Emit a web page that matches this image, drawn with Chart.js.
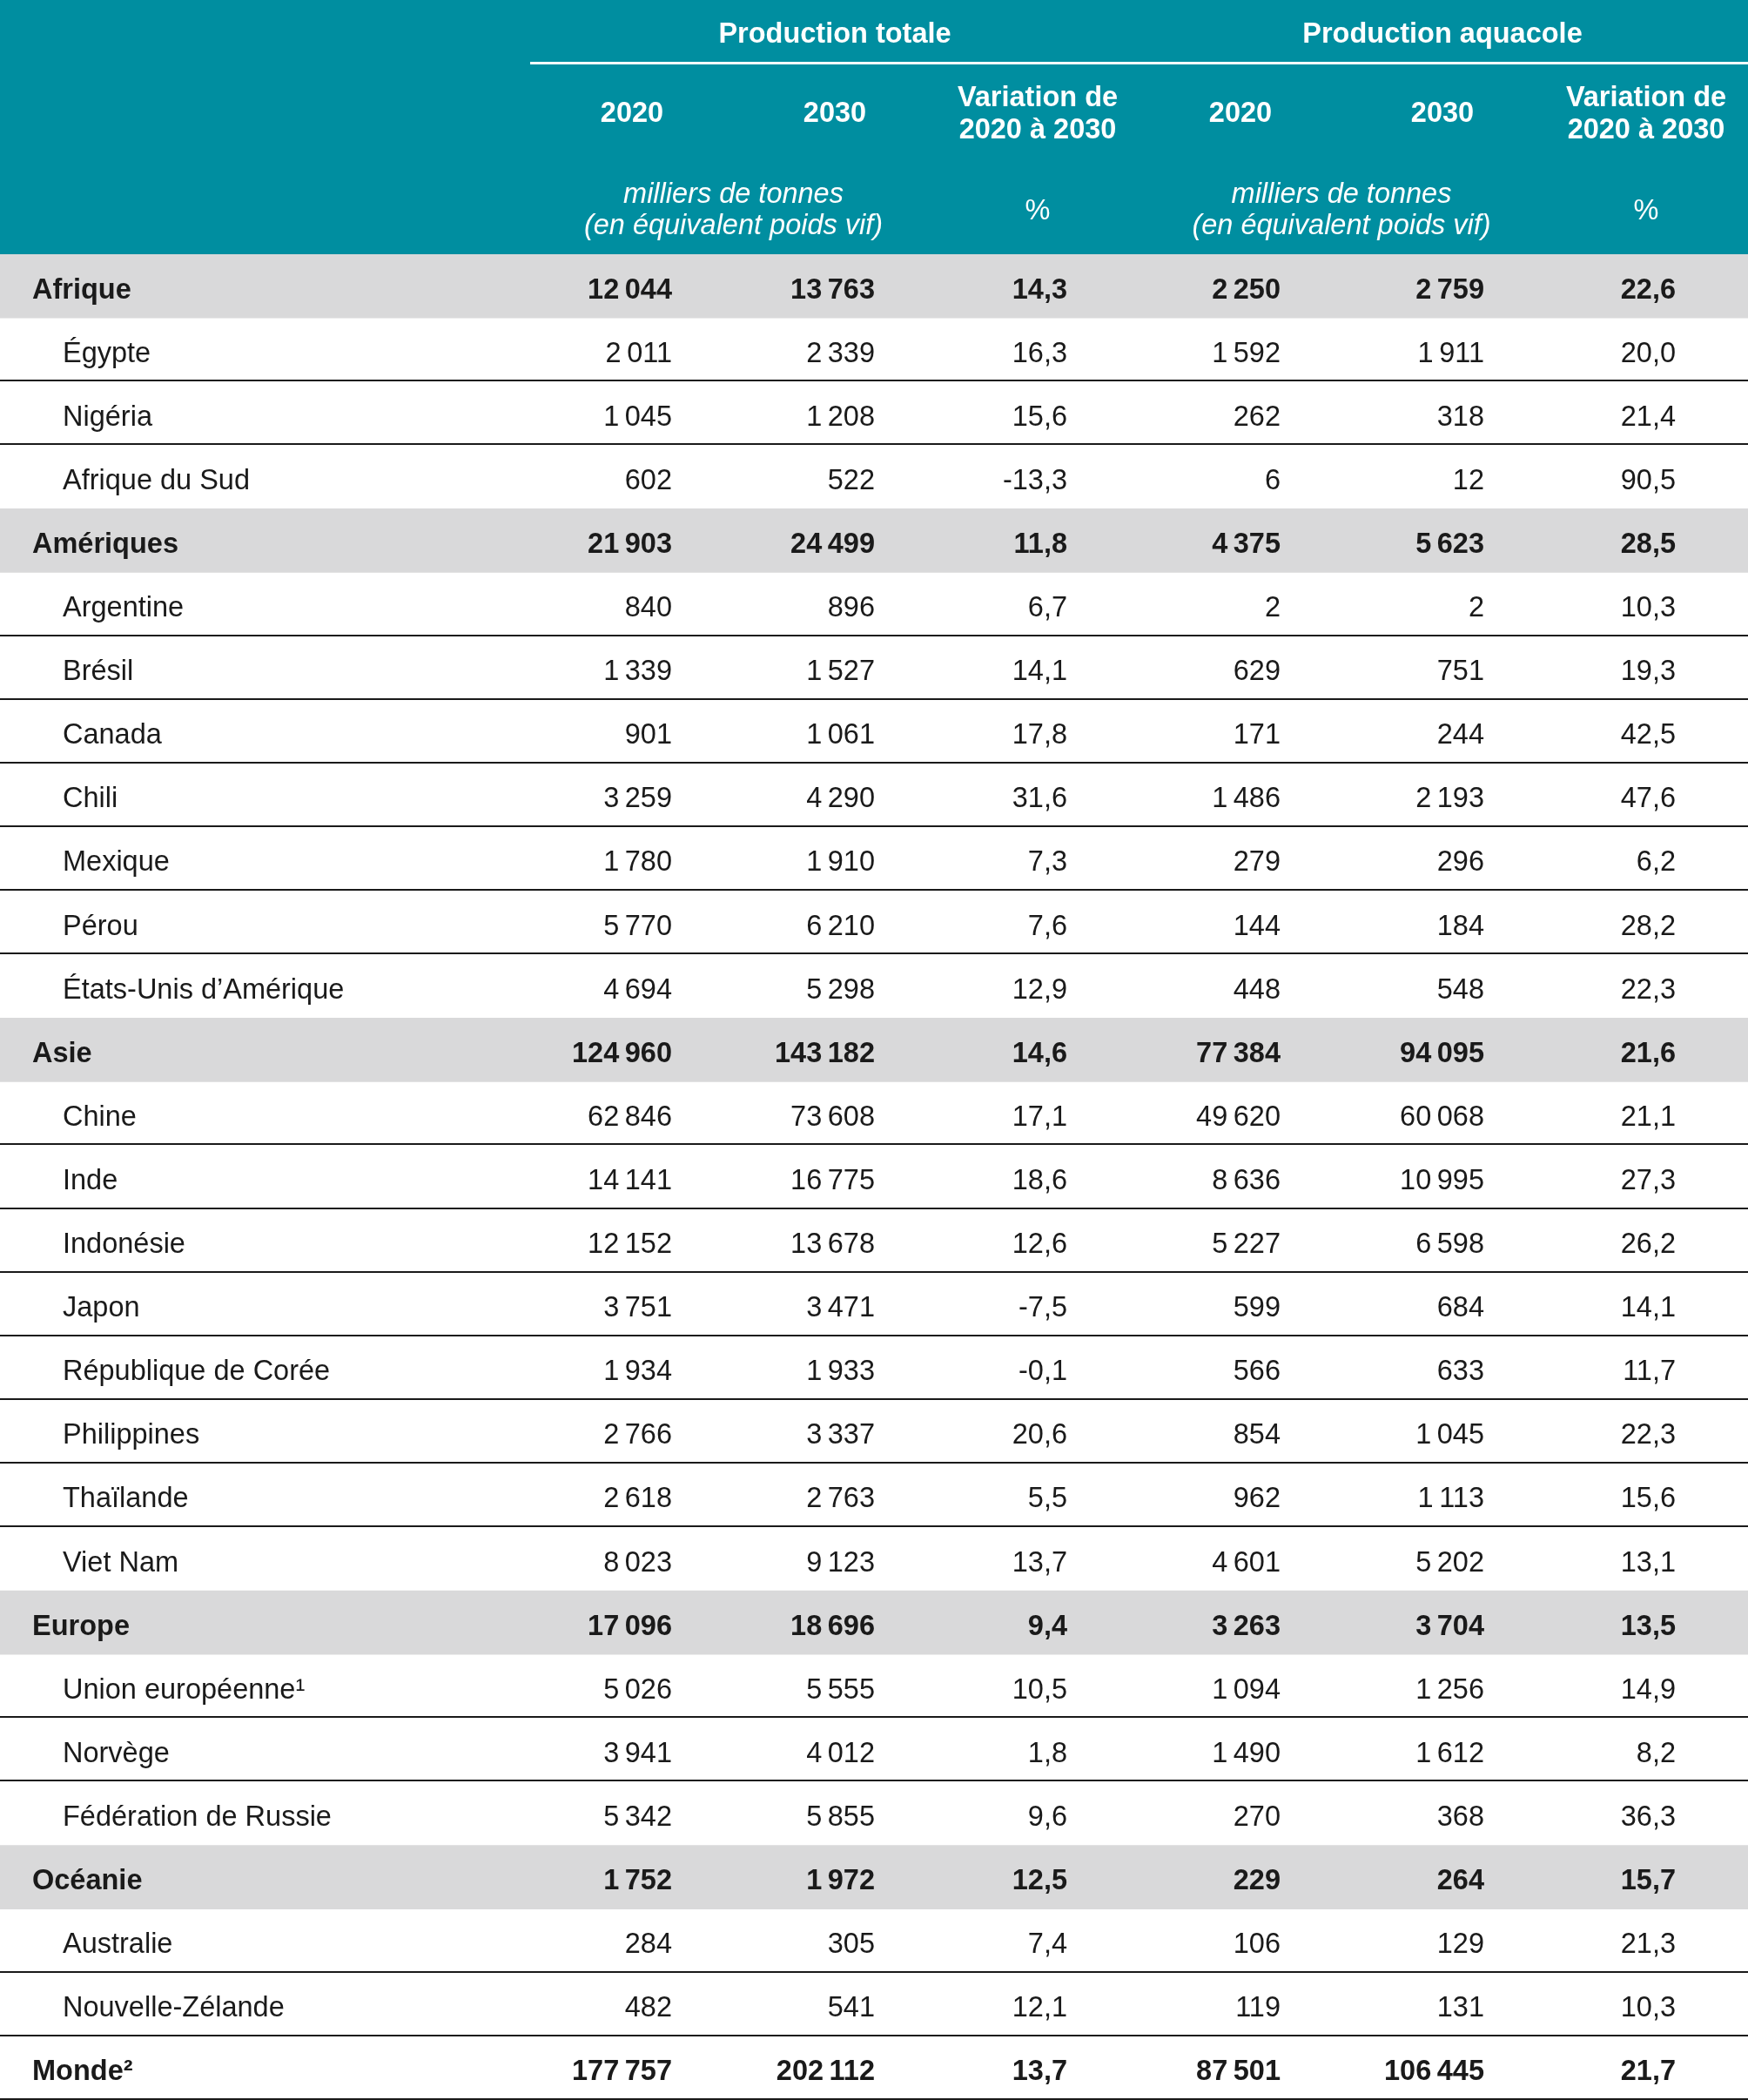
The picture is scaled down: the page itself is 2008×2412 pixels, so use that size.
<!DOCTYPE html>
<html lang="fr">
<head>
<meta charset="utf-8">
<title>Production totale et aquacole, 2020-2030</title>
<script src="https://cdn.jsdelivr.net/npm/chart.js@4.4.1/dist/chart.umd.min.js"></script>
<style>
    html, body { margin: 0; padding: 0; background: #ffffff; }
    #wrap { width: 2008px; height: 2412px; }
</style>
</head>
<body>
<div id="wrap"><canvas id="tableChart" width="2008" height="2412"></canvas></div>
<script>
// Lignes du tableau
const rowLabels = [
    'Afrique', 'Égypte', 'Nigéria', 'Afrique du Sud',
    'Amériques', 'Argentine', 'Brésil', 'Canada', 'Chili', 'Mexique', 'Pérou', 'États-Unis d’Amérique',
    'Asie', 'Chine', 'Inde', 'Indonésie', 'Japon', 'République de Corée', 'Philippines', 'Thaïlande', 'Viet Nam',
    'Europe', 'Union européenne¹', 'Norvège', 'Fédération de Russie',
    'Océanie', 'Australie', 'Nouvelle-Zélande',
    'Monde²'
];
// 1 = région (fond gris, gras), 2 = total mondial (gras), 0 = pays
const rowType = [
    1, 0, 0, 0,
    1, 0, 0, 0, 0, 0, 0, 0,
    1, 0, 0, 0, 0, 0, 0, 0, 0,
    1, 0, 0, 0,
    1, 0, 0,
    2
];

// Production totale (milliers de tonnes, équivalent poids vif)
const total2020 = [
    12044, 2011, 1045, 602,
    21903, 840, 1339, 901, 3259, 1780, 5770, 4694,
    124960, 62846, 14141, 12152, 3751, 1934, 2766, 2618, 8023,
    17096, 5026, 3941, 5342,
    1752, 284, 482,
    177757
];
const total2030 = [
    13763, 2339, 1208, 522,
    24499, 896, 1527, 1061, 4290, 1910, 6210, 5298,
    143182, 73608, 16775, 13678, 3471, 1933, 3337, 2763, 9123,
    18696, 5555, 4012, 5855,
    1972, 305, 541,
    202112
];
const totalVar = [
    14.3, 16.3, 15.6, -13.3,
    11.8, 6.7, 14.1, 17.8, 31.6, 7.3, 7.6, 12.9,
    14.6, 17.1, 18.6, 12.6, -7.5, -0.1, 20.6, 5.5, 13.7,
    9.4, 10.5, 1.8, 9.6,
    12.5, 7.4, 12.1,
    13.7
];

// Production aquacole
const aqua2020 = [
    2250, 1592, 262, 6,
    4375, 2, 629, 171, 1486, 279, 144, 448,
    77384, 49620, 8636, 5227, 599, 566, 854, 962, 4601,
    3263, 1094, 1490, 270,
    229, 106, 119,
    87501
];
const aqua2030 = [
    2759, 1911, 318, 12,
    5623, 2, 751, 244, 2193, 296, 184, 548,
    94095, 60068, 10995, 6598, 684, 633, 1045, 1113, 5202,
    3704, 1256, 1612, 368,
    264, 129, 131,
    106445
];
const aquaVar = [
    22.6, 20.0, 21.4, 90.5,
    28.5, 10.3, 19.3, 42.5, 47.6, 6.2, 28.2, 22.3,
    21.6, 21.1, 27.3, 26.2, 14.1, 11.7, 22.3, 15.6, 13.1,
    13.5, 14.9, 8.2, 36.3,
    15.7, 21.3, 10.3,
    21.7
];

// En-têtes
const groupTitles = ['Production totale', 'Production aquacole'];
const yearLabels = ['2020', '2030'];
const variationLabel = ['Variation de', '2020 à 2030'];
const unitLabel = ['milliers de tonnes', '(en équivalent poids vif)'];
const percentLabel = '%';

// Mise en page (pixels)
const W = 2008, H = 2412, HEADER_H = 292;
const TEAL = '#008ea0';
const GREY = '#d9d9da';
const INK = '#1a1a1a';
const FONT = '"Liberation Sans", Arial, sans-serif';
const SIZE = '32.5px ';
const colRight = [772, 1005, 1226, 1471, 1705, 1925];
const colHeadCenter = [726, 959, 1192, 1425, 1657, 1891];

function fmtInt(v) {
    return String(v).replace(/\B(?=(\d{3})+(?!\d))/g, '\u2009');
}
function fmtPct(v) {
    return v.toFixed(1).replace('.', ',');
}

const columns = [
    { data: total2020, fmt: fmtInt },
    { data: total2030, fmt: fmtInt },
    { data: totalVar, fmt: fmtPct },
    { data: aqua2020, fmt: fmtInt },
    { data: aqua2030, fmt: fmtInt },
    { data: aquaVar, fmt: fmtPct }
];

// Plugin : dessine l'en-tête, les libellés, les valeurs et les filets
const tablePlugin = {
    id: 'tablePlugin',
    beforeDraw(chart) {
        const c = chart.ctx;
        c.save();
        c.fillStyle = '#ffffff';
        c.fillRect(0, 0, W, H);
        c.fillStyle = TEAL;
        c.fillRect(0, 0, W, HEADER_H);
        c.restore();
    },
    afterDatasetsDraw(chart) {
        const c = chart.ctx;
        const x = chart.scales.x;
        const y = chart.scales.y;
        const band = y.getPixelForValue(1) - y.getPixelForValue(0);

        c.save();
        // En-tête
        c.fillStyle = '#ffffff';
        c.textBaseline = 'middle';
        c.textAlign = 'center';
        c.font = 'bold ' + SIZE + FONT;
        c.fillText(groupTitles[0], x.getPixelForValue(colHeadCenter[1]), 40);
        c.fillText(groupTitles[1], x.getPixelForValue(colHeadCenter[4]), 40);

        c.strokeStyle = '#ffffff';
        c.lineWidth = 3;
        c.beginPath();
        c.moveTo(x.getPixelForValue(609), 72.5);
        c.lineTo(x.getPixelForValue(W), 72.5);
        c.stroke();

        [0, 3].forEach(off => {
            c.font = 'bold ' + SIZE + FONT;
            c.fillText(yearLabels[0], x.getPixelForValue(colHeadCenter[off]), 131);
            c.fillText(yearLabels[1], x.getPixelForValue(colHeadCenter[off + 1]), 131);
            c.fillText(variationLabel[0], x.getPixelForValue(colHeadCenter[off + 2]), 113);
            c.fillText(variationLabel[1], x.getPixelForValue(colHeadCenter[off + 2]), 150);
            c.font = 'italic ' + SIZE + FONT;
            const mid = (colHeadCenter[off] + colHeadCenter[off + 1]) / 2 - 0;
            c.fillText(unitLabel[0], x.getPixelForValue(mid), 224);
            c.fillText(unitLabel[1], x.getPixelForValue(mid), 260);
            c.font = SIZE + FONT;
            c.fillText(percentLabel, x.getPixelForValue(colHeadCenter[off + 2]), 243);
        });

        // Corps du tableau
        c.fillStyle = INK;
        rowLabels.forEach((label, i) => {
            const cy = y.getPixelForValue(i) + 5;
            const bold = rowType[i] > 0;
            c.font = (bold ? 'bold ' : '') + SIZE + FONT;
            c.textAlign = 'left';
            c.fillText(label, x.getPixelForValue(bold ? 37 : 72), cy);
            c.textAlign = 'right';
            columns.forEach((col, j) => {
                c.fillText(col.fmt(col.data[i]), x.getPixelForValue(colRight[j]), cy);
            });
        });

        // Filets entre les lignes blanches
        c.strokeStyle = INK;
        c.lineWidth = 2;
        rowLabels.forEach((label, i) => {
            const next = rowType[i + 1];
            if (rowType[i] !== 1 && next !== 1) {
                const ly = Math.round(y.getPixelForValue(i) + band / 2) - 1;
                c.beginPath();
                c.moveTo(x.getPixelForValue(0), ly);
                c.lineTo(x.getPixelForValue(W), ly);
                c.stroke();
            }
        });
        c.restore();
    }
};

const ctx = document.getElementById('tableChart').getContext('2d');
new Chart(ctx, {
    type: 'bar',
    data: {
        labels: rowLabels,
        datasets: [{
            label: 'fond régions',
            data: rowType.map(t => (t === 1 ? [0, W] : null)),
            backgroundColor: GREY,
            borderWidth: 0,
            barPercentage: 1,
            categoryPercentage: 1
        }]
    },
    options: {
        indexAxis: 'y',
        responsive: false,
        devicePixelRatio: 1,
        animation: false,
        layout: { padding: { top: HEADER_H, left: 0, right: 0, bottom: 0 } },
        plugins: {
            legend: { display: false },
            tooltip: { enabled: false }
        },
        scales: {
            x: { type: 'linear', min: 0, max: W, display: false },
            y: { type: 'category', display: false, grid: { display: false } }
        }
    },
    plugins: [tablePlugin]
});
</script>
</body>
</html>
